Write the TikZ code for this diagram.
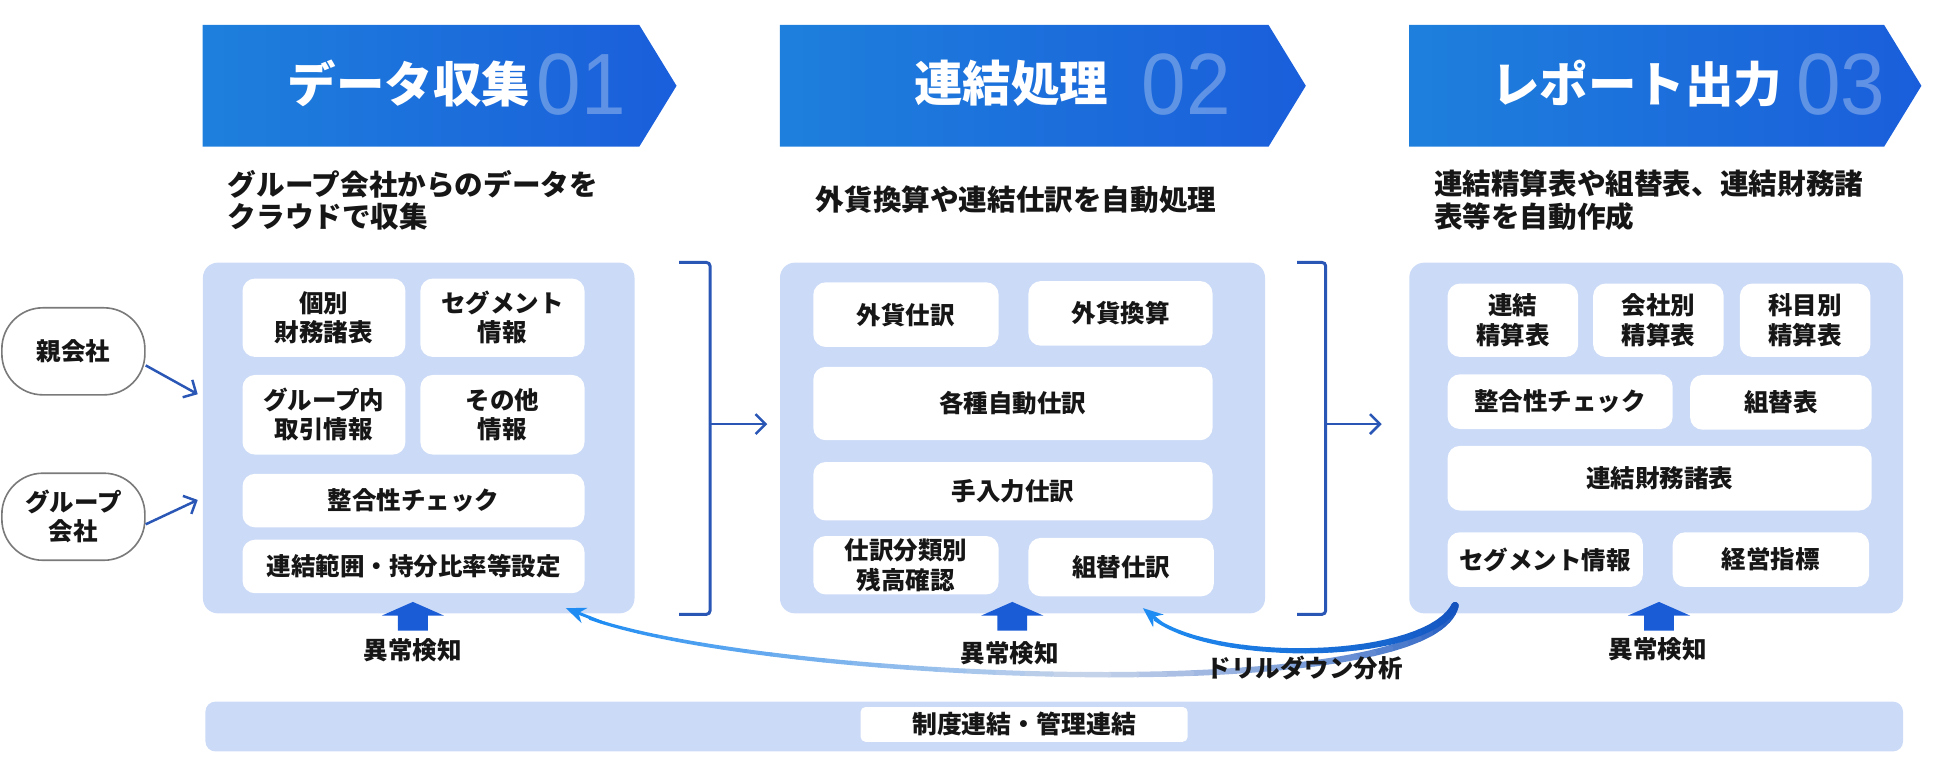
\documentclass[tikz,border=0pt]{standalone}
\usepackage{fontspec}
\setmainfont{Noto Sans CJK JP}
\newfontfamily\jp{Noto Sans CJK JP}
\newfontfamily\digitfont{Liberation Sans}
\usetikzlibrary{arrows.meta,calc}
\definecolor{bnL}{HTML}{1E80DC}
\definecolor{bnR}{HTML}{1A5EDB}
\definecolor{lb}{HTML}{CBDAF7}
\definecolor{brk}{HTML}{2A57B6}
\definecolor{blk}{HTML}{1A5BD6}
\definecolor{cvA}{HTML}{1452BE}
\definecolor{cvM}{HTML}{C4D2EA}
\definecolor{cvB}{HTML}{1E8CF2}
\definecolor{txt}{HTML}{161616}
\definecolor{ovl}{HTML}{7A7A7A}
\tikzset{
  lightbox/.style={fill=lb, rounded corners=12pt, draw=none, inner sep=0pt, anchor=north west},
  wbox/.style={fill=white, rounded corners=10pt, inner sep=0pt, align=center,
    font=\jp\bfseries\fontsize{19.7}{23.5}\selectfont, text=txt},
  titletext/.style={font=\jp\bfseries\fontsize{39}{44}\selectfont, text=white, inner sep=0pt},
  bignum/.style={font=\digitfont\fontsize{70}{70}\selectfont, text=white, text opacity=0.3, inner sep=0pt},
  desc/.style={font=\jp\bfseries\fontsize{23}{26}\selectfont, text=txt, inner sep=0pt, align=left},
  lbl/.style={font=\jp\bfseries\fontsize{19.7}{24}\selectfont, text=txt, inner sep=0pt},
  oval/.style={draw=ovl, line width=1.3pt, fill=white, rounded corners=33pt, inner sep=0pt, align=center,
    font=\jp\bfseries\fontsize{19.7}{23.5}\selectfont, text=txt, minimum width=115, minimum height=70},
  bline/.style={draw=brk, line width=2.4pt, rounded corners=3pt},
  barr/.style={draw=brk, line width=2pt, -{Straight Barb[length=8,width=16,line width=2pt]}},
}
\begin{document}
\begin{tikzpicture}[x=1pt,y=-1pt]
\useasboundingbox (0,0) rectangle (1568,610);
% banners
\shade[left color=bnL, right color=bnR] (163,20) -- (514,20) -- (544,69) -- (514,118) -- (163,118) -- cycle;
\shade[left color=bnL, right color=bnR] (627,20) -- (1020,20) -- (1050,69) -- (1020,118) -- (627,118) -- cycle;
\shade[left color=bnL, right color=bnR] (1133,20) -- (1515,20) -- (1545,69) -- (1515,118) -- (1133,118) -- cycle;
\node[bignum] (n1) at (467.5,68) {\scalebox{0.92}[1]{01}};
\node[bignum] (n2) at (954,68) {\scalebox{0.92}[1]{02}};
\node[bignum] (n3) at (1480,68) {\scalebox{0.92}[1]{03}};
\node[titletext] (t1) at (329,67) {データ収集};
\node[titletext] (t2) at (813,67) {連結処理};
\node[titletext] (t3) at (1316,67) {レポート出力};
% descriptions
\node[desc, anchor=west] (d1) at (183,161) {グループ会社からのデータを\\クラウドで収集};
\node[desc] (d2) at (817,160.5) {外貨換算や連結仕訳を自動処理};
\node[desc, anchor=west] (d3) at (1153,161) {連結精算表や組替表、連結財務諸\\表等を自動作成};
% light boxes
\node[lightbox, minimum width=347, minimum height=282] (L1) at (163,211) {};
\node[lightbox, minimum width=390, minimum height=282] (L2) at (627,211) {};
\node[lightbox, minimum width=397, minimum height=282] (L3) at (1133,211) {};
% box 1 items
\node[wbox, minimum width=131, minimum height=63] (a1) at (260.5,255.5) {個別\\財務諸表};
\node[wbox, minimum width=132, minimum height=63] (a2) at (404,255.5) {セグメント\\情報};
\node[wbox, minimum width=131, minimum height=64] (a3) at (260.5,333.5) {グループ内\\取引情報};
\node[wbox, minimum width=132, minimum height=64] (a4) at (404,333.5) {その他\\情報};
\node[wbox, minimum width=275, minimum height=43] (a5) at (332.5,402.5) {整合性チェック};
\node[wbox, minimum width=275, minimum height=43] (a6) at (332.5,455.5) {連結範囲・持分比率等設定};
% box 2 items
\node[wbox, minimum width=149, minimum height=52] (b1) at (728.5,253) {外貨仕訳};
\node[wbox, minimum width=148, minimum height=52] (b2) at (901,252) {外貨換算};
\node[wbox, minimum width=321, minimum height=59] (b3) at (814.5,324.5) {各種自動仕訳};
\node[wbox, minimum width=321, minimum height=47] (b4) at (814.5,395) {手入力仕訳};
\node[wbox, minimum width=149, minimum height=47] (b5) at (728.5,454.5) {仕訳分類別\\残高確認};
\node[wbox, minimum width=149, minimum height=47] (b6) at (901.5,456) {組替仕訳};
% box 3 items
\node[wbox, minimum width=105, minimum height=59] (c1) at (1216.5,257.5) {連結\\精算表};
\node[wbox, minimum width=105, minimum height=59] (c2) at (1333.5,257.5) {会社別\\精算表};
\node[wbox, minimum width=105, minimum height=59] (c3) at (1451.5,257.5) {科目別\\精算表};
\node[wbox, minimum width=181, minimum height=44] (c4) at (1254.5,323) {整合性チェック};
\node[wbox, minimum width=146, minimum height=44] (c5) at (1432,323.5) {組替表};
\node[wbox, minimum width=341, minimum height=52] (c6) at (1334.5,384.5) {連結財務諸表};
\node[wbox, minimum width=157, minimum height=44] (c7) at (1242.5,450) {セグメント情報};
\node[wbox, minimum width=158, minimum height=44] (c8) at (1424,450) {経営指標};
% source ovals
\node[oval] (oya) at (59,282.5) {親会社};
\node[oval] (grp) at (59,415.5) {グループ\\会社};
\coordinate (in1) at ($(L1.north west)+(-4,106)$);
\coordinate (in2) at ($(L1.north west)+(-4,191)$);
\draw[barr] (oya.-11) -- (in1);
\draw[barr] (grp.-6) -- (in2);
% brackets
\draw[bline] (546,211) -- (571,211) -- (571,494) -- (546,494);
\draw[bline] (1043,211) -- (1066,211) -- (1066,494) -- (1043,494);
\coordinate (br1) at (571,341);
\coordinate (br2) at (1066,341);
\draw[barr] (br1) -- ($(L2.west|-br1)+(-10,0)$);
\draw[barr] (br2) -- ($(L3.west|-br2)+(-22,0)$);
% anomaly arrows
\foreach \x/\n in {332/u1,814/u2,1334/u3}{
  \fill[blk] (\x-12,507) -- (\x-12,495) -- (\x-25,495) -- (\x,484) -- (\x+25,495) -- (\x+12,495) -- (\x+12,507) -- cycle;
}
\node[lbl] (k1) at (332,523) {異常検知};
\node[lbl] (k2) at (812,525) {異常検知};
\node[lbl] (k3) at (1333,522) {異常検知};
% drill-down curves
\coordinate (dA0) at (1170,487);
\coordinate (dA1) at (1150,575);
\coordinate (dA2) at (560,545);
\coordinate (dA3) at (455,489);
\coordinate (dB1) at (1145,535);
\coordinate (dB2) at (955,535);
\coordinate (dB3) at (919,489);
\foreach \i in {0,...,39}{
  \pgfmathsetmacro{\ta}{\i/40*0.95}
  \pgfmathsetmacro{\tb}{(\i+1)/40*0.95}
  \pgfmathsetmacro{\lw}{6-3.5*\i/39}
  \pgfmathtruncatemacro{\ma}{max(0,100-100*\i/19)}
  \pgfmathtruncatemacro{\mb}{max(0,min(100,100-100*(\i-20)/19))}
  \ifnum\i<20 \edef\cc{cvA!\ma!cvM}\else\edef\cc{cvM!\mb!cvB}\fi
  \begin{pgfscope}
    \pgfsetlinewidth{\lw pt}
    \pgfsetroundcap
    \pgfsetstrokecolor{\cc}
    \pgfpathcurvebetweentime{\ta}{\tb}{\pgfpointanchor{dA0}{center}}{\pgfpointanchor{dA1}{center}}{\pgfpointanchor{dA2}{center}}{\pgfpointanchor{dA3}{center}}
    \pgfusepath{stroke}
  \end{pgfscope}
}
\foreach \i in {0,...,29}{
  \pgfmathsetmacro{\ta}{\i/30*0.93}
  \pgfmathsetmacro{\tb}{(\i+1)/30*0.93}
  \pgfmathsetmacro{\lw}{6-3.3*\i/29}
  \pgfmathtruncatemacro{\ma}{100-100*\i/29}
  \edef\cc{cvA!\ma!cvB}
  \begin{pgfscope}
    \pgfsetlinewidth{\lw pt}
    \pgfsetroundcap
    \pgfsetstrokecolor{\cc}
    \pgfpathcurvebetweentime{\ta}{\tb}{\pgfpointanchor{dA0}{center}}{\pgfpointanchor{dB1}{center}}{\pgfpointanchor{dB2}{center}}{\pgfpointanchor{dB3}{center}}
    \pgfusepath{stroke}
  \end{pgfscope}
}
\pgfcoordinate{dAe}{\pgfpointcurveattime{0.93}{\pgfpointanchor{dA0}{center}}{\pgfpointanchor{dA1}{center}}{\pgfpointanchor{dA2}{center}}{\pgfpointanchor{dA3}{center}}}
\pgfcoordinate{dBe}{\pgfpointcurveattime{0.9}{\pgfpointanchor{dA0}{center}}{\pgfpointanchor{dB1}{center}}{\pgfpointanchor{dB2}{center}}{\pgfpointanchor{dB3}{center}}}
\draw[cvB, line width=2.4pt, -{Stealth[length=16,width=13]}] (dAe) -- (dA3);
\draw[cvB, line width=2.6pt, -{Stealth[length=16,width=13]}] (dBe) -- (dB3);
\node[lbl] (dd) at (1049,537) {ドリルダウン分析};
% bottom bar
\node[lightbox, rounded corners=8pt, minimum width=1365, minimum height=40] (bar) at (165,564) {};
\node[wbox, rounded corners=4pt, minimum width=263, minimum height=28, font=\jp\bfseries\fontsize{20}{24}\selectfont] (barlbl) at (823.5,582.5) {制度連結・管理連結};
\end{tikzpicture}
\end{document}
